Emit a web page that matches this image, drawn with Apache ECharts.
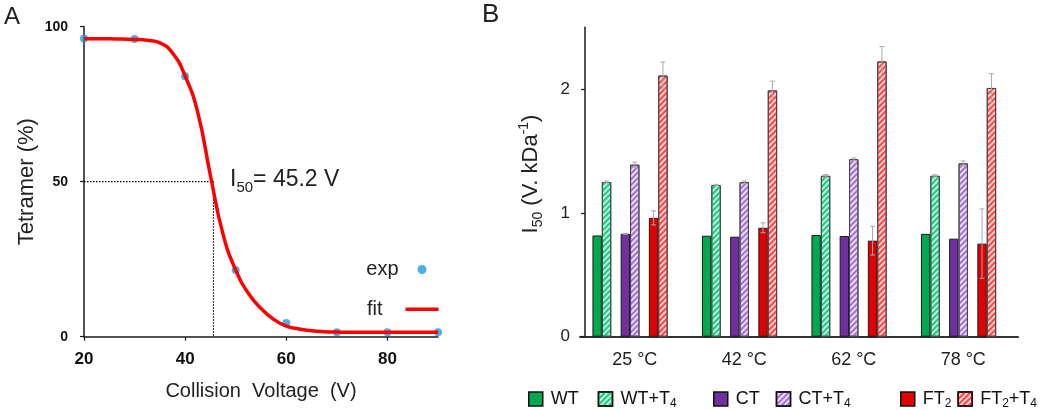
<!DOCTYPE html>
<html>
<head>
<meta charset="utf-8">
<script src="https://cdn.jsdelivr.net/npm/echarts@6/dist/echarts.min.js"></script>
<style>
html,body{margin:0;padding:0;background:#fff;}
#c{width:1050px;height:410px;}
</style>
</head>
<body>
<div id="c"></div>
<script>
// ---------- Panel A data ----------
const voltage = [20, 30, 40, 50, 60, 70, 80, 90];
const tetramerExp = [96.2, 96.0, 84.0, 21.5, 4.4, 1.4, 1.4, 1.4];
const fitVoltage = [20, 22.5, 25, 27.5, 30, 32.5, 35, 37.5, 40, 42.5, 45, 47.5, 50, 52.5, 55, 57.5, 60, 62.5, 65, 67.5, 70, 72.5, 75, 77.5, 80, 82.5, 85, 87.5, 90];
const fitTetramer = [96.1, 96.1, 96.1, 96.0, 95.9, 95.6, 94.8, 91.5, 84.1, 72.3, 52.0, 33.0, 21.5, 14.0, 9.1, 5.6, 3.4, 2.5, 1.9, 1.6, 1.5, 1.4, 1.4, 1.4, 1.4, 1.4, 1.4, 1.4, 1.4];
const i50Value = 45.2;
const guideX = 45.6;
const guideY = 50;
const xTicksA = [20, 40, 60, 80];
const yTicksA = [0, 50, 100];

// ---------- Panel B data ----------
const temps = ['25 °C', '42 °C', '62 °C', '78 °C'];
const WT      = [0.818, 0.816, 0.822, 0.831];
const WT_T4   = [1.250, 1.226, 1.300, 1.300];
const CT      = [0.831, 0.808, 0.814, 0.792];
const CT_T4   = [1.390, 1.248, 1.434, 1.400];
const FT2     = [0.960, 0.880, 0.776, 0.752];
const FT2_T4  = [2.110, 1.990, 2.224, 2.010];
const WT_err     = [0.000, 0.000, 0.000, 0.000];
const WT_T4_err  = [0.008, 0.005, 0.010, 0.008];
const CT_err     = [0.004, 0.000, 0.000, 0.000];
const CT_T4_err  = [0.020, 0.010, 0.010, 0.020];
const FT2_err    = [0.057, 0.040, 0.116, 0.280];
const FT2_T4_err = [0.110, 0.075, 0.120, 0.115];
const yTicksB = [0, 1, 2];

const FONT = 'Liberation Sans, Arial, sans-serif';
const BW = 9.4;

function hatch(color) {
  return { symbol: 'rect', symbolSize: 1, dashArrayX: [1, 0], dashArrayY: [1.6, 1.6], rotation: -Math.PI / 4, color: color };
}

const barDefs = [
  { name: 'WT',     data: WT,     err: WT_err,     slot: 0, color: '#00a94f', border: '#1a1a1a' },
  { name: 'WT+T4',  data: WT_T4,  err: WT_T4_err,  slot: 1, color: '#bdf3da', border: '#444', decal: hatch('#1acb84') },
  { name: 'CT',     data: CT,     err: CT_err,     slot: 3, color: '#7030a0', border: '#1a1a1a' },
  { name: 'CT+T4',  data: CT_T4,  err: CT_T4_err,  slot: 4, color: '#ecdcfa', border: '#444', decal: hatch('#a070d8') },
  { name: 'FT2',    data: FT2,    err: FT2_err,    slot: 6, color: '#e30000', border: '#1a1a1a' },
  { name: 'FT2+T4', data: FT2_T4, err: FT2_T4_err, slot: 7, color: '#ffd0d0', border: '#444', decal: hatch('#ff4444') }
];

const barSeries = [];
const order = ['WT', 'WT+T4', '_g1', 'CT', 'CT+T4', '_g2', 'FT2', 'FT2+T4', '_g3'];
order.forEach(function (n) {
  const d = barDefs.find(function (b) { return b.name === n; });
  if (!d) {
    barSeries.push({ type: 'bar', name: n, xAxisIndex: 1, yAxisIndex: 1, data: [], barWidth: BW, barGap: '0%', silent: true });
    return;
  }
  const style = { color: d.color, borderColor: d.border, borderWidth: 1 };
  if (d.decal) style.decal = d.decal;
  barSeries.push({
    type: 'bar', name: n, xAxisIndex: 1, yAxisIndex: 1, data: d.data,
    barWidth: BW, barGap: '0%', itemStyle: style, silent: true
  });
});

const errData = [];
barDefs.forEach(function (d) {
  d.data.forEach(function (v, i) { errData.push([i, v, d.err[i], d.slot]); });
});

const legendMap = {
  'WT': 'WT', 'WT+T4': 'WT+T{s|4}', 'CT': 'CT', 'CT+T4': 'CT+T{s|4}',
  'FT2': 'FT{s|2}', 'FT2+T4': 'FT{s|2}+T{s|4}'
};
function legendB(names, left, gap) {
  return {
    data: names, left: left, top: 383, itemWidth: 14, itemHeight: 14, itemGap: gap,
    selectedMode: false, icon: 'rect',
    itemStyle: { borderColor: '#111', borderWidth: 1.5 },
    formatter: function (n) { return legendMap[n]; },
    textStyle: {
      fontFamily: FONT, fontSize: 18, color: '#111', lineHeight: 22, padding: [0, 0, 0, 3],
      rich: { s: { fontFamily: FONT, fontSize: 12, lineHeight: 12, verticalAlign: 'bottom', color: '#111' } }
    }
  };
}

const chart = echarts.init(document.getElementById('c'), null, { renderer: 'canvas' });
const option = {
  animation: false,
  textStyle: { fontFamily: FONT },
  grid: [
    { left: 84, top: 26.7, width: 354, height: 310 },
    { left: 580, top: 27.3, width: 438, height: 309.4 }
  ],
  xAxis: [
    {
      type: 'value', gridIndex: 0, min: 20, max: 90, interval: 20,
      name: 'Collision  Voltage  (V)', nameLocation: 'middle', nameGap: 45,
      nameTextStyle: { fontFamily: FONT, fontSize: 20, color: '#222' },
      axisLine: { show: true, lineStyle: { color: '#1a1a1a', width: 1.5 } },
      axisTick: { show: true, length: 4, customValues: xTicksA, lineStyle: { color: '#1a1a1a', width: 1.2 } },
      axisLabel: { customValues: xTicksA, margin: 14, fontFamily: FONT, fontSize: 17, fontWeight: 'bold', color: '#111' },
      splitLine: { show: false }
    },
    {
      type: 'category', gridIndex: 1, data: temps,
      axisLine: { show: true, lineStyle: { color: '#333', width: 2 } },
      axisTick: { show: false },
      axisLabel: { margin: 14, fontFamily: FONT, fontSize: 18, color: '#222' },
      splitLine: { show: false }
    }
  ],
  yAxis: [
    {
      type: 'value', gridIndex: 0, min: 0, max: 100, interval: 50,
      name: 'Tetramer (%)', nameLocation: 'middle', nameGap: 46,
      nameTextStyle: { fontFamily: FONT, fontSize: 22, color: '#222' },
      axisLine: { show: true, lineStyle: { color: '#1a1a1a', width: 1.5 } },
      axisTick: { show: true, length: 4, customValues: yTicksA, lineStyle: { color: '#1a1a1a', width: 1.2 } },
      axisLabel: { customValues: yTicksA, margin: 16, fontFamily: FONT, fontSize: 14, fontWeight: 'bold', color: '#111' },
      splitLine: { show: false }
    },
    {
      type: 'value', gridIndex: 1, min: 0, max: 2.5, interval: 1, offset: -5,
      name: 'I{s|50} (V. kDa{p|-1})', nameLocation: 'middle', nameGap: 40,
      nameTextStyle: {
        fontFamily: FONT, fontSize: 22, color: '#222', lineHeight: 28, padding: [0, 0, 0, 16],
        rich: {
          s: { fontFamily: FONT, fontSize: 14, lineHeight: 14, verticalAlign: 'bottom', color: '#222' },
          p: { fontFamily: FONT, fontSize: 14, lineHeight: 14, verticalAlign: 'top', color: '#222' }
        }
      },
      axisLine: { show: true, lineStyle: { color: '#1a1a1a', width: 1.5 } },
      axisTick: { show: true, length: 4, customValues: yTicksB, lineStyle: { color: '#1a1a1a', width: 1.2 } },
      axisLabel: { customValues: yTicksB, margin: 15, fontFamily: FONT, fontSize: 17, color: '#222' },
      splitLine: { show: false }
    }
  ],
  legend: [
    {
      data: [{ name: 'exp', icon: 'circle' }], right: 618.5, top: 254.5, align: 'right',
      itemWidth: 9, itemHeight: 9, selectedMode: false,
      textStyle: { fontFamily: FONT, fontSize: 20, color: '#222', padding: [0, 14, 0, 0] }
    },
    {
      data: [{ name: 'fit', icon: 'rect' }], right: 606.5, top: 294.2, align: 'right',
      itemWidth: 33, itemHeight: 3.5, selectedMode: false,
      textStyle: { fontFamily: FONT, fontSize: 20, color: '#222', padding: [0, 18, 14, 0] }
    },
    legendB(['WT', 'WT+T4'], 523, 19),
    legendB(['CT', 'CT+T4'], 708, 16),
    legendB(['FT2', 'FT2+T4'], 895, 6)
  ],
  graphic: [
    { type: 'text', left: 4, top: 5, style: { text: 'A', font: '24px ' + FONT, fill: '#222' } },
    { type: 'text', left: 482, top: 2, style: { text: 'B', font: '26px ' + FONT, fill: '#222' } },
    {
      type: 'text', x: 230, y: 165,
      style: {
        text: 'I{s|50}= ' + i50Value.toFixed(1) + ' V', font: '23px ' + FONT, fill: '#222', lineHeight: 30,
        rich: { s: { font: '15px ' + FONT, fill: '#222', lineHeight: 15, verticalAlign: 'bottom' } }
      }
    }
  ],
  series: [
    {
      type: 'line', name: 'guide', xAxisIndex: 0, yAxisIndex: 0, silent: true,
      data: [[xTicksA[0], guideY], [guideX, guideY], [guideX, 0]],
      symbol: 'none', lineStyle: { color: '#000', width: 1.2, type: [1.5, 1.5] }, z: 1
    },
    {
      type: 'scatter', name: 'exp', xAxisIndex: 0, yAxisIndex: 0, silent: true, clip: false,
      data: voltage.map(function (v, i) { return [v, tetramerExp[i]]; }),
      symbolSize: 8, itemStyle: { color: '#1f9be0' }, z: 2
    },
    {
      type: 'line', name: 'fit', xAxisIndex: 0, yAxisIndex: 0, silent: true,
      data: fitVoltage.map(function (v, i) { return [v, fitTetramer[i]]; }),
      smooth: 0.5, symbol: 'none',
      itemStyle: { color: '#ff0000' },
      lineStyle: { color: '#ff0000', width: 3.5 }, z: 3
    }
  ].concat(barSeries).concat([
    {
      type: 'custom', name: 'err', xAxisIndex: 1, yAxisIndex: 1, silent: true, z: 5,
      data: errData, encode: { x: 0, y: 1 },
      renderItem: function (params, api) {
        const i = api.value(0), v = api.value(1), e = api.value(2), k = api.value(3);
        if (!(e > 0)) return;
        const c = api.coord([i, v]);
        const x = c[0] + (k - 4) * BW;
        const yT = api.coord([i, v + e])[1];
        const yB = api.coord([i, v - e])[1];
        const cap = 2.5;
        const st = { stroke: '#a8a8a8', lineWidth: 1 };
        return {
          type: 'group', children: [
            { type: 'line', shape: { x1: x, y1: yT, x2: x, y2: yB }, style: st },
            { type: 'line', shape: { x1: x - cap, y1: yT, x2: x + cap, y2: yT }, style: st },
            { type: 'line', shape: { x1: x - cap, y1: yB, x2: x + cap, y2: yB }, style: st }
          ]
        };
      }
    }
  ])
};
chart.setOption(option);
</script>
</body>
</html>
